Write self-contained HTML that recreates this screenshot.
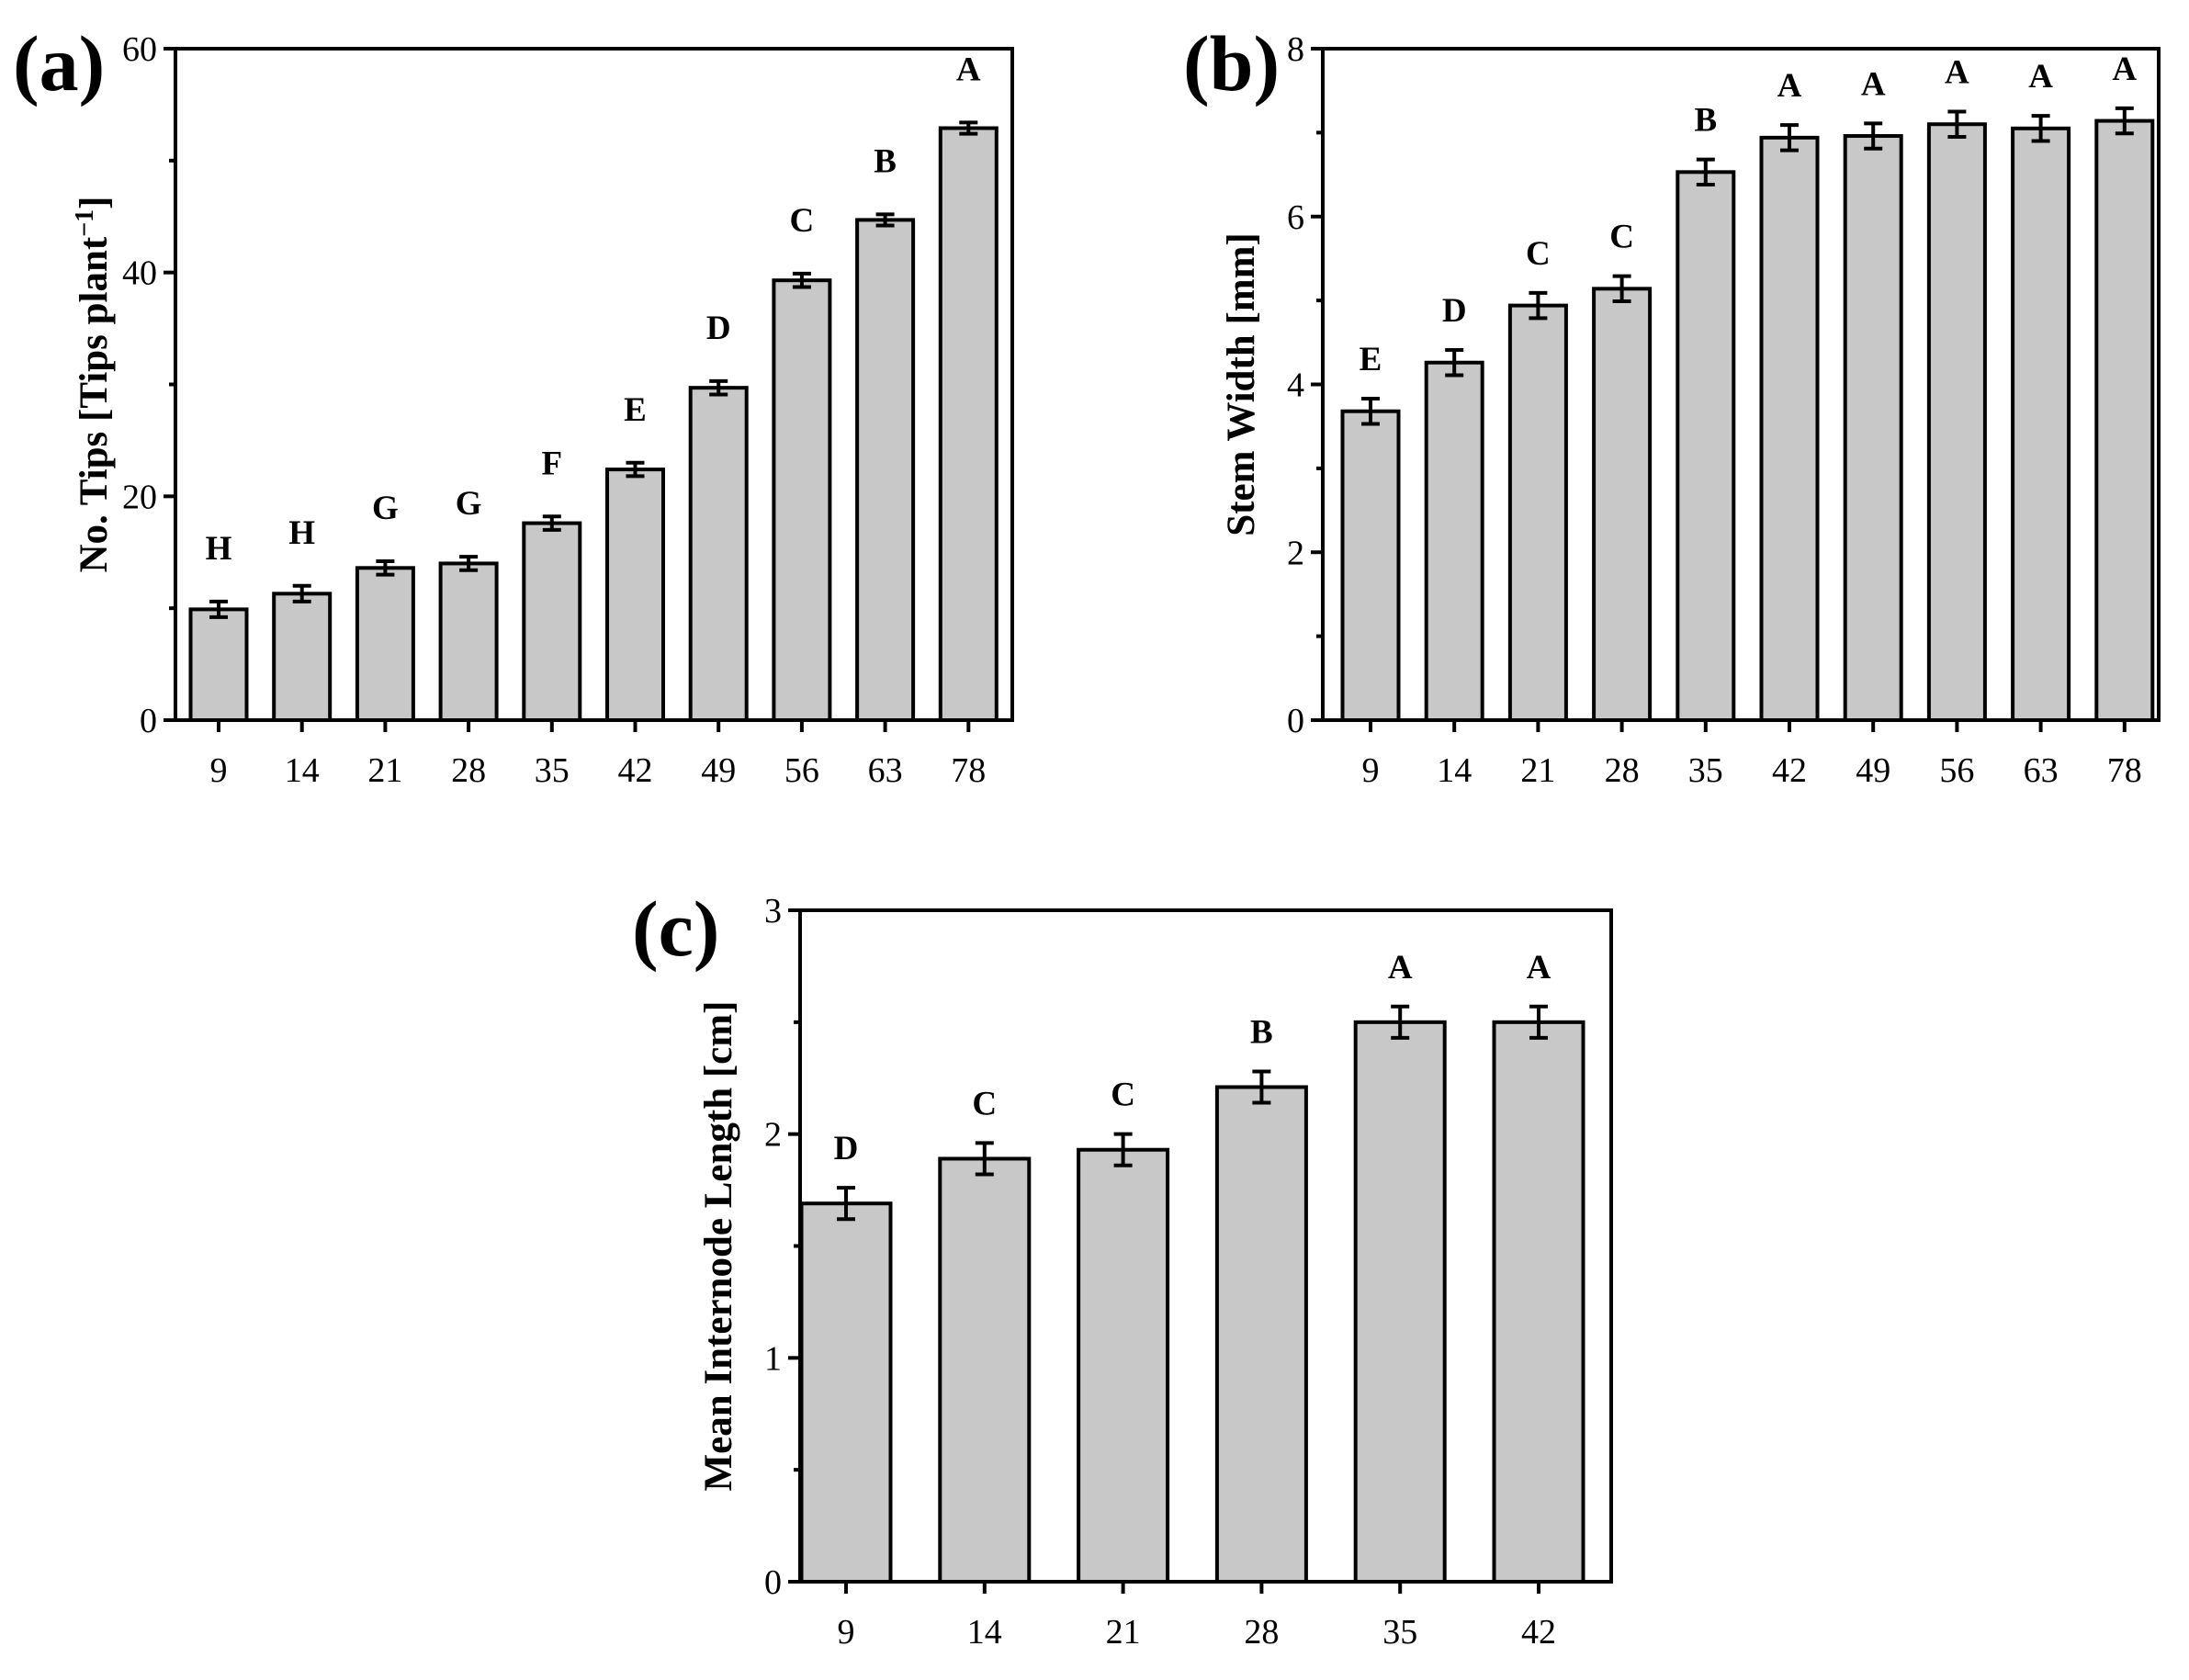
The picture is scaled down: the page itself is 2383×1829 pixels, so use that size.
<!DOCTYPE html>
<html><head><meta charset="utf-8"><style>
html,body{margin:0;padding:0;background:#fff;}
svg{display:block;font-family:"Liberation Serif",serif;}
</style></head><body>
<svg id="chart" width="2383" height="1829" viewBox="0 0 2383 1829" xmlns="http://www.w3.org/2000/svg"></svg>
<script>
// Panel (a)
const catsA = ["9","14","21","28","35","42","49","56","63","78"];
const valsA = [9.9,11.3,13.6,14.0,17.6,22.4,29.7,39.3,44.7,52.9];
const errsA = [0.7,0.7,0.6,0.6,0.6,0.6,0.6,0.6,0.5,0.5];
const lettersA = ["H","H","G","G","F","E","D","C","B","A"];
const ticksA = [0,20,40,60];
// Panel (b)
const catsB = ["9","14","21","28","35","42","49","56","63","78"];
const valsB = [3.68,4.26,4.94,5.14,6.53,6.94,6.96,7.10,7.05,7.14];
const errsB = [0.15,0.15,0.15,0.15,0.15,0.15,0.15,0.15,0.15,0.15];
const lettersB = ["E","D","C","C","B","A","A","A","A","A"];
const ticksB = [0,2,4,6,8];
// Panel (c)
const catsC = ["9","14","21","28","35","42"];
const valsC = [1.69,1.89,1.93,2.21,2.50,2.50];
const errsC = [0.07,0.07,0.07,0.07,0.07,0.07];
const lettersC = ["D","C","C","B","A","A"];
const ticksC = [0,1,2,3];

const svg = document.getElementById('chart');
const NS = 'http://www.w3.org/2000/svg';
function mk(tag, attrs, parent){
  const e = document.createElementNS(NS, tag);
  for (const k in attrs) e.setAttribute(k, attrs[k]);
  (parent||svg).appendChild(e);
  return e;
}
function panel(id, box, cats, vals, errs, letters, ticks, title, label, barW, labelPos, off, step, lOff){
  const g = mk('g', {});
  
  
  const ymax = ticks[ticks.length-1];
  const y = v => box.b - (v / ymax) * (box.b - box.t);
  const x = i => box.l + off + step * i;
  cats.forEach((c, i) => {
    const r = mk('rect', {x: x(i)-barW/2, y: y(vals[i]), width: barW, height: box.b - y(vals[i]), fill: '#c8c8c8', stroke: '#000', 'stroke-width': 4}, g);
    
    
    const eg = mk('g', {stroke: '#000', 'stroke-width': 4}, g);
    
    
    const yt = y(vals[i]+errs[i]), yb = y(vals[i]-errs[i]);
    mk('line', {x1: x(i), x2: x(i), y1: yt, y2: yb}, eg);
    mk('line', {x1: x(i)-10, x2: x(i)+10, y1: yt, y2: yt}, eg);
    mk('line', {x1: x(i)-10, x2: x(i)+10, y1: yb, y2: yb}, eg);
    const lt = mk('text', {x: x(i), y: yt - lOff, 'text-anchor': 'middle', 'font-size': 37, 'font-weight': 'bold'}, g);
    lt.textContent = letters[i];
    
    
    const tk = mk('line', {x1: x(i), x2: x(i), y1: box.b, y2: box.b + 13, stroke: '#000', 'stroke-width': 4}, g);
    
    
    const tl = mk('text', {x: x(i), y: box.b + 67, 'text-anchor': 'middle', 'font-size': 38}, g);
    tl.textContent = c;
    
    
  });
  ticks.forEach((t, k) => {
    const ln = mk('line', {x1: box.l - 13, x2: box.l, y1: y(t), y2: y(t), stroke: '#000', 'stroke-width': 4}, g);
    
    
    const tl = mk('text', {x: box.l - 20, y: y(t) + 13, 'text-anchor': 'end', 'font-size': 38}, g);
    tl.textContent = t;
    
    
    if (k < ticks.length - 1) {
      const m = (t + ticks[k+1]) / 2;
      const mn = mk('line', {x1: box.l - 7, x2: box.l, y1: y(m), y2: y(m), stroke: '#000', 'stroke-width': 4}, g);
      
      
    }
  });
  const fr = mk('rect', {x: box.l, y: box.t, width: box.r - box.l, height: box.b - box.t, fill: 'none', stroke: '#000', 'stroke-width': 4}, g);
  
  
  const tx = box.l - 75, ty = (box.t + box.b) / 2;
  const tt = mk('text', {x: tx, y: ty, 'text-anchor': 'middle', 'font-size': 43, 'font-weight': 'bold', transform: 'rotate(-90 ' + tx + ' ' + ty + ')'}, g);
  tt.innerHTML = title;
  
  
  const pl = mk('text', {x: labelPos[0], y: labelPos[1], 'font-size': 86, 'font-weight': 'bold'}, g);
  pl.textContent = label;
  
  
}
panel('a', {l:191, r:1102, t:53, b:784}, catsA, valsA, errsA, lettersA, ticksA,
  'No. Tips [Tips plant<tspan baseline-shift="super" font-size="28">−1</tspan>]', '(a)', 61, [14, 98], 47, 90.7, 46);
panel('b', {l:1440, r:2350, t:53, b:784}, catsB, valsB, errsB, lettersB, ticksB,
  'Stem Width [mm]', '(b)', 61, [1288, 98], 52, 91.2, 31);
panel('c', {l:871, r:1754, t:991, b:1722}, catsC, valsC, errsC, lettersC, ticksC,
  'Mean Internode Length [cm]', '(c)', 97, [688, 1040], 50, 150.8, 31);
</script>
</body></html>
